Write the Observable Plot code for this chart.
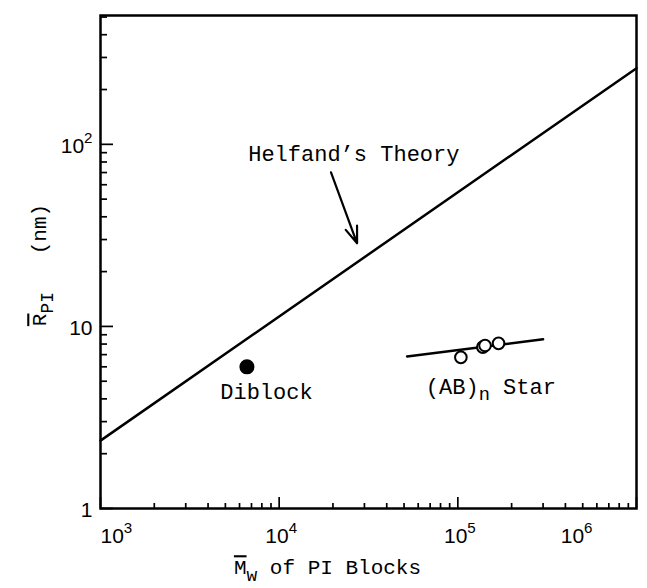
<!DOCTYPE html>
<html><head><meta charset="utf-8">
<script src="https://cdn.jsdelivr.net/npm/d3@7"></script>
<script src="https://cdn.jsdelivr.net/npm/@observablehq/plot@0.6"></script>
<style>body{margin:0;background:#fff}</style>
</head><body><div id="chart"></div>
<script>
// Helfand's theory line (M_w of PI blocks vs R_PI in nm)
const theoryM = [1e3, 1e6];
const theoryR = [2.36, 262];
// Diblock point
const diblockM = [6600];
const diblockR = [6.0];
// (AB)n star points
const starM = [1.04e5, 1.38e5, 1.42e5, 1.69e5];
const starR = [6.76, 7.7, 7.85, 8.07];
// fit through the star points
const starFitM = [5.2e4, 3.0e5];
const starFitR = [6.84, 8.49];
// tick values / labels
const xMajor = [1e3, 1e4, 1e5, 1e6];
const xTickLabels = ["10^{3}", "10^{4}", "10^{5}", "10^{6}"];
const yMajor = [1, 10, 100];
const yTickLabels = ["1", "10", "10^{2}"];
const xTitle = "~{M}_{w} of PI Blocks";
const yTitle = "~{R}_{PI}\u00a0\u00a0\u00a0(nm)";
// annotations (data coordinates)
const annoText = ["Helfand’s Theory", "Diblock", "(AB)_{n} Star"];
const annoM = [6710, 4680, 66200];
const annoR = [89, 4.34, 4.68];
const arrowM = [19500, 27300];
const arrowR = [70.2, 28.6];

const minorOf = (lo, hi) => {
  const out = [];
  for (let d = lo; d < hi; d *= 10) for (let k = 2; k <= 9; k++) if (d * k <= hi) out.push(d * k);
  return out;
};
const xMinor = minorOf(1e3, 1e6);
const yMinor = minorOf(1, 510);

const theory = theoryM.map((m, i) => ({m, r: theoryR[i]}));
const diblock = diblockM.map((m, i) => ({m, r: diblockR[i]}));
const star = starM.map((m, i) => ({m, r: starR[i]}));
const starFit = starFitM.map((m, i) => ({m, r: starFitR[i]}));
const xLab = xMajor.map((v, i) => ({v, t: xTickLabels[i]}));
const yLab = yMajor.map((v, i) => ({v, t: yTickLabels[i]}));
const anno = annoText.map((t, i) => ({t, m: annoM[i], r: annoR[i]}));

const W = 647, H = 588, ML = 100, MR = 11, MT = 15, MB = 80;
const xDomain = [1e3, 1e6], yDomain = [1, 510];
// inward tick lengths (px) converted into data space via the log scales
const decX = (W - ML - MR) / Math.log10(xDomain[1] / xDomain[0]);
const decY = (H - MT - MB) / Math.log10(yDomain[1] / yDomain[0]);
const xTickEnd = (len) => xDomain[0] * Math.pow(10, len / decX);
const yTickEnd = (len) => yDomain[0] * Math.pow(10, len / decY);

const mono = "Liberation Mono, Courier New, monospace";
const sans = "Liberation Sans, Arial, sans-serif";

const chart = Plot.plot({
  width: W, height: H,
  marginLeft: ML, marginRight: MR, marginTop: MT, marginBottom: MB,
  x: {type: "log", domain: xDomain, axis: null},
  y: {type: "log", domain: yDomain, axis: null},
  style: {background: "#fff", color: "#000"},
  marks: [
    Plot.frame({stroke: "#000", fill: "none", strokeWidth: 2.5}),
    Plot.ruleX(xMinor, {x: d => d, y1: () => yDomain[0], y2: () => yTickEnd(5), stroke: "#000", strokeWidth: 1.7}),
    Plot.ruleX(xMajor, {x: d => d, y1: () => yDomain[0], y2: () => yTickEnd(11), stroke: "#000", strokeWidth: 1.7}),
    Plot.ruleY(yMinor, {y: d => d, x1: () => xDomain[0], x2: () => xTickEnd(7), stroke: "#000", strokeWidth: 1.7}),
    Plot.ruleY(yMajor, {y: d => d, x1: () => xDomain[0], x2: () => xTickEnd(13), stroke: "#000", strokeWidth: 1.7}),
    Plot.text(xLab.slice(0, 1), {x: "v", text: "t", frameAnchor: "bottom", lineAnchor: "middle", dy: 28, textAnchor: "start", fontFamily: sans, fontSize: 21}),
    Plot.text(xLab.slice(1, -1), {x: "v", text: "t", frameAnchor: "bottom", lineAnchor: "middle", dy: 28, dx: 2, textAnchor: "middle", fontFamily: sans, fontSize: 21}),
    Plot.text(xLab.slice(-1), {x: "v", text: "t", frameAnchor: "bottom", lineAnchor: "middle", dy: 28, dx: -44, textAnchor: "end", fontFamily: sans, fontSize: 21}),
    Plot.text(yLab, {y: "v", text: "t", frameAnchor: "left", lineAnchor: "middle", dx: -8, dy: 2, textAnchor: "end", fontFamily: sans, fontSize: 21}),
    Plot.text([xTitle], {text: d => d, frameAnchor: "bottom", lineAnchor: "middle", textAnchor: "middle", dx: -41, dy: 59, fontFamily: mono, fontSize: 21}),
    Plot.text([yTitle], {text: d => d, frameAnchor: "left", lineAnchor: "middle", textAnchor: "middle", dx: -61, dy: 3, rotate: -90, fontFamily: mono, fontSize: 21}),
    Plot.line(theory, {x: "m", y: "r", strokeWidth: 2.5}),
    Plot.line(starFit, {x: "m", y: "r", strokeWidth: 2.5}),
    Plot.dot(star, {x: "m", y: "r", r: 5.8, fill: "#fff", stroke: "#000", strokeWidth: 2}),
    Plot.dot(diblock, {x: "m", y: "r", r: 6.8, fill: "#000", stroke: "#000"}),
    Plot.arrow([0], {x1: () => arrowM[0], y1: () => arrowR[0], x2: () => arrowM[1], y2: () => arrowR[1], strokeWidth: 2.2, headLength: 12, headAngle: 40}),
    Plot.text(anno, {x: "m", y: "r", text: "t", textAnchor: "start", fontFamily: mono, fontSize: 22})
  ]
});

// rich text: ^{sup}, _{sub}, ~{overline}
function rich(textEl) {
  const s = textEl.textContent;
  if (!/[\^_~]\{/.test(s)) return;
  const fs = parseFloat(getComputedStyle(textEl).fontSize) || 20;
  const re = /([\^_~])\{([^}]*)\}|([^\^_~]+)/g;
  let m, offset = 0;
  const parts = [];
  while ((m = re.exec(s))) parts.push(m[3] != null ? {t: m[3], k: ""} : {t: m[2], k: m[1]});
  textEl.textContent = "";
  const ns = "http://www.w3.org/2000/svg";
  for (const p of parts) {
    const ts = document.createElementNS(ns, "tspan");
    ts.textContent = p.t;
    let target = 0;
    if (p.k === "^") { target = -0.5 * fs; ts.setAttribute("font-size", 0.72 * fs); }
    if (p.k === "_") { target = 0.3 * fs; ts.setAttribute("font-size", 0.85 * fs); }
    if (p.k === "~") { ts.setAttribute("text-decoration", "overline"); ts.style.textDecoration = "overline"; }
    if (target !== offset) ts.setAttribute("dy", target - offset);
    offset = target;
    textEl.appendChild(ts);
  }
}
document.getElementById("chart").appendChild(chart);
chart.querySelectorAll("text").forEach(rich);
</script>
</body></html>
